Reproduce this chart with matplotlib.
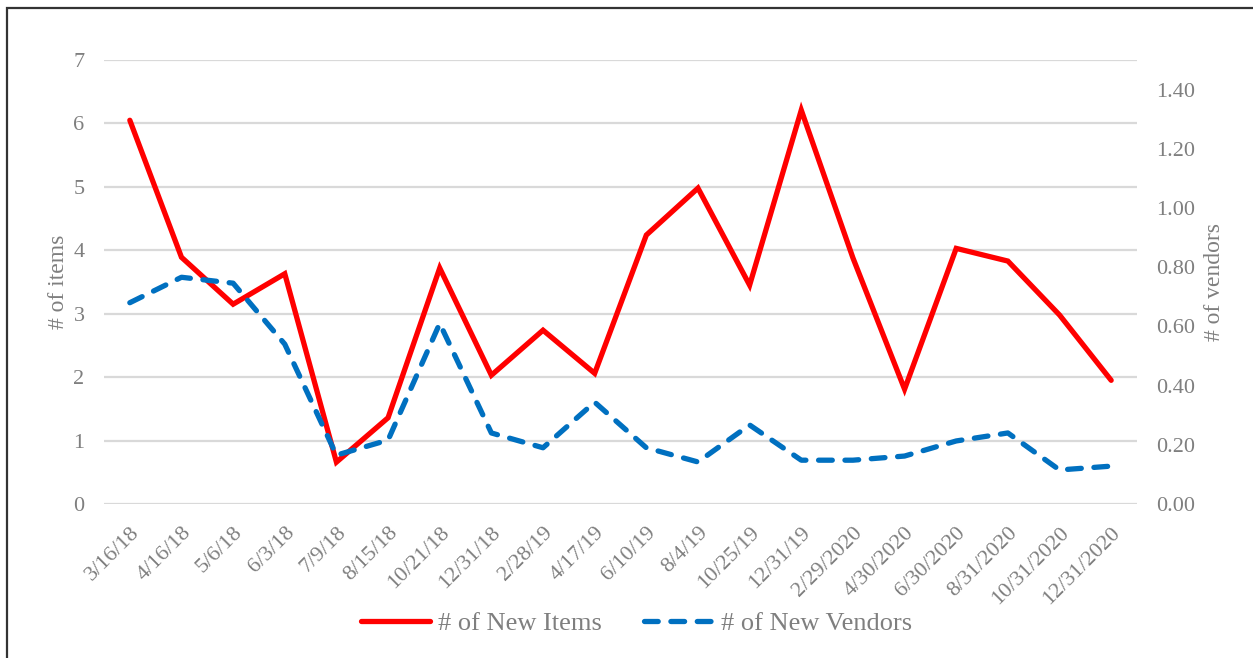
import matplotlib.pyplot as plt
from matplotlib.patches import Rectangle

dates = ['3/16/18', '4/16/18', '5/6/18', '6/3/18', '7/9/18', '8/15/18', '10/21/18',
         '12/31/18', '2/28/19', '4/17/19', '6/10/19', '8/4/19', '10/25/19', '12/31/19',
         '2/29/2020', '4/30/2020', '6/30/2020', '8/31/2020', '10/31/2020', '12/31/2020']
new_items = [6.05, 3.89, 3.15, 3.63, 0.66, 1.36, 3.72, 2.03, 2.74, 2.06,
             4.24, 4.98, 3.45, 6.21, 3.88, 1.81, 4.03, 3.83, 2.98, 1.95]
new_vendors = [0.68, 0.766, 0.746, 0.54, 0.165, 0.216, 0.61, 0.24, 0.19, 0.344,
               0.19, 0.142, 0.267, 0.148, 0.148, 0.162, 0.213, 0.24, 0.115, 0.128]

plt.rcParams['font.family'] = ['Liberation Serif', 'DejaVu Serif']
grey = '#7f7f7f'

fig = plt.figure(figsize=(12.53, 6.58), dpi=100)
ax = fig.add_axes([104 / 1253, 154 / 658, 1033 / 1253, 444 / 658])
ax2 = ax.twinx()

x = list(range(len(dates)))
l1, = ax.plot(x, new_items, color='#ff0000', linewidth=3.8, solid_capstyle='round',
              solid_joinstyle='miter', label='# of New Items', zorder=3)
l2, = ax2.plot(x, new_vendors, color='#0070c0', linewidth=3.8, linestyle=(0, (2.6, 2.4)),
               dash_capstyle='round', label='# of New Vendors', zorder=2)

ax.set_xlim(-0.5, len(dates) - 0.5)
ax.set_ylim(0, 7)
ax.set_yticks(range(8))
ax2.set_ylim(0, 1.5)
ax2.set_yticks([i * 0.2 for i in range(8)])
ax2.set_yticklabels([f'{i * 0.2:.2f}' for i in range(8)])

ax.set_xticks(x)
ax.set_xticklabels(dates, rotation=45, ha='right', rotation_mode='anchor')

ax.grid(True, axis='y', color='#d9d9d9', linewidth=1.6)
ax.set_axisbelow(True)
for a in (ax, ax2):
    for s in a.spines.values():
        s.set_visible(False)
    a.tick_params(length=0, colors=grey, labelsize=16)
ax.tick_params(axis='y', pad=14)
ax.tick_params(axis='x', pad=14)
ax2.tick_params(axis='y', pad=14)

ax.set_ylabel('# of items', color=grey, fontsize=17, labelpad=3)
ax2.set_ylabel('# of vendors', color=grey, fontsize=17, labelpad=6)

fig.legend(handles=[l1, l2], loc='center', bbox_to_anchor=(0.508, 0.053), ncol=2,
           frameon=False, fontsize=19, labelcolor=grey, handlelength=2.6,
           columnspacing=1.6, handletextpad=0.3)

fig.patches.append(Rectangle((7 / 1253, -0.01), 1.02, 1 - 8 / 658 + 0.01,
                             transform=fig.transFigure, fill=False,
                             edgecolor='#333333', linewidth=1.6))

fig.savefig('out.png', dpi=100)
